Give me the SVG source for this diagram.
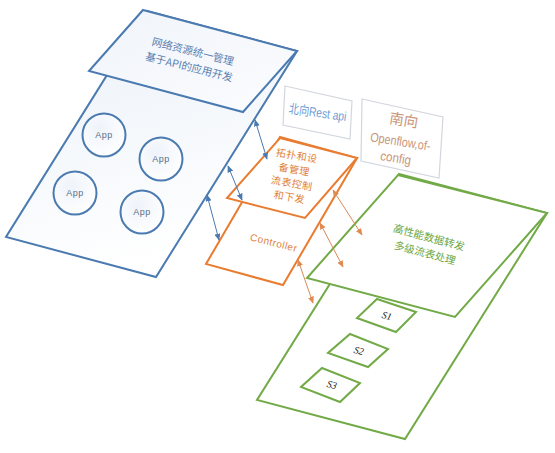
<svg xmlns="http://www.w3.org/2000/svg" width="555" height="453" viewBox="0 0 555 453">
<defs>
<linearGradient id="gBlue" x1="0" y1="0" x2="0.3" y2="1">
<stop offset="0" stop-color="#e9f0f8"/>
<stop offset="1" stop-color="#ffffff"/>
</linearGradient>
<linearGradient id="gBlueTop" x1="0" y1="0" x2="1" y2="1">
<stop offset="0" stop-color="#f0f4fa"/>
<stop offset="1" stop-color="#fbfcfe"/>
</linearGradient>
<radialGradient id="gCircle" cx="0.4" cy="0.35" r="0.7">
<stop offset="0" stop-color="#eef3fa"/>
<stop offset="1" stop-color="#ffffff"/>
</radialGradient>
<marker id="ab" viewBox="0 0 10 10" refX="9" refY="5" markerWidth="7" markerHeight="6" markerUnits="userSpaceOnUse" orient="auto-start-reverse" preserveAspectRatio="none">
<path d="M0,0 L10,5 L0,10 z" fill="#4a7ab0"/>
</marker>
<marker id="ao" viewBox="0 0 10 10" refX="9" refY="5" markerWidth="7" markerHeight="6" markerUnits="userSpaceOnUse" orient="auto-start-reverse" preserveAspectRatio="none">
<path d="M0,0 L10,5 L0,10 z" fill="#e08a50"/>
</marker>
</defs>
<style>
.pb{stroke:#4a7ab0;stroke-width:2;stroke-linejoin:miter}
.po{stroke:#e97c30;stroke-width:2;fill:#ffffff}
.pg{stroke:#72aa47;stroke-width:2;fill:#ffffff}
.cj{font-family:"Noto Sans CJK SC","Liberation Sans",sans-serif;text-anchor:middle}
.la{font-family:"Liberation Sans","Noto Sans CJK SC",sans-serif;text-anchor:middle}
.tb{fill:#5a80b0}
.to{fill:#e07f3c}
.tg{fill:#6aa640}
.ts{fill:#c8957a}
.app{font-family:"Liberation Sans",sans-serif;font-size:9px;fill:#5a6f8a;text-anchor:middle;letter-spacing:0.5px}
.sl{font-family:"Liberation Serif",serif;font-style:italic;font-size:10px;fill:#222;text-anchor:middle}
.cb{fill:url(#gCircle);stroke:#4a7ab0;stroke-width:2}
.arb{stroke:#4a7ab0;stroke-width:1;fill:none;marker-start:url(#ab);marker-end:url(#ab)}
.aro{stroke:#d98a55;stroke-width:1;fill:none;marker-start:url(#ao);marker-end:url(#ao)}
.lbox{fill:#ffffff;stroke:#d2d6de;stroke-width:1.2}
</style>

<g id="app-layer">
<polygon class="pb" fill="url(#gBlue)" points="147,11 297,51 156,277 6,237"/>
<polygon class="pb" fill="url(#gBlueTop)" points="143,10 297,51 243,112 89,71"/>
<g transform="translate(191,59) rotate(14)">
<text class="cj tb" font-size="10.5" x="0" y="-4">网络资源统一管理</text>
<text class="cj tb" font-size="10.5" x="0" y="12">基于API的应用开发</text>
</g>
</g>

<g id="app1"><circle class="cb" cx="104" cy="135" r="21.5"/><text class="app" x="104" y="138">App</text></g>
<g id="app2"><circle class="cb" cx="161" cy="159" r="21.5"/><text class="app" x="161" y="162">App</text></g>
<g id="app3"><circle class="cb" cx="75" cy="193" r="21.5"/><text class="app" x="75" y="196">App</text></g>
<g id="app4"><circle class="cb" cx="142" cy="212" r="21.5"/><text class="app" x="142" y="215">App</text></g>

<g id="north-label">
<polygon class="lbox" points="285,86 352,101 350,139 283,125"/>
<text class="la" font-size="13" fill="#6d9bd3" transform="translate(317,117) rotate(8)" x="0" y="0" textLength="58" lengthAdjust="spacingAndGlyphs">北向Rest api</text>
</g>

<g id="south-label">
<polygon class="lbox" points="362,99 443,117 439,178 361,161"/>
<g transform="translate(401,138) rotate(9)">
<text class="cj ts" font-size="14.5" x="0" y="-13">南向</text>
<text class="la ts" font-size="13" x="0" y="8" textLength="61" lengthAdjust="spacingAndGlyphs">Openflow,of-</text>
<text class="la ts" font-size="13" x="-2" y="25" textLength="31" lengthAdjust="spacingAndGlyphs">config</text>
</g>
</g>

<g id="controller">
<polygon class="po" points="280,137 357,158 283,285 206,264"/>
<text class="la to" font-size="10" letter-spacing="0.5" transform="translate(273,246) rotate(14)">Controller</text>
</g>

<g id="topology">
<polygon class="po" points="280,138 357,158 305,218 227,198"/>
<g transform="translate(293,177) rotate(10)" font-size="10">
<text class="cj to" x="0" y="-18" letter-spacing="0.5">拓扑和设</text>
<text class="cj to" x="0" y="-4" letter-spacing="0.5">备管理</text>
<text class="cj to" x="0" y="10" letter-spacing="0.5">流表控制</text>
<text class="cj to" x="0" y="24" letter-spacing="0.5">和下发</text>
</g>
</g>

<g id="forwarding">
<polygon class="pg" points="399,174 547,213 405,439 257,400"/>
<g id="s1"><polygon class="pg" points="377,299 416,312 396,332 357,318"/><text class="sl" transform="translate(386,319) rotate(14)">S1</text></g>
<g id="s2"><polygon class="pg" points="350,334 388,349 368,367 328,353"/><text class="sl" transform="translate(358,354) rotate(14)">S2</text></g>
<g id="s3"><polygon class="pg" points="322,368 360,383 340,402 301,387"/><text class="sl" transform="translate(331,388) rotate(14)">S3</text></g>
<polygon class="pg" points="398,175 547,213 455,317 307,278"/>
<g transform="translate(427,245) rotate(15)" font-size="10.5">
<text class="cj tg" x="0" y="-4">高性能数据转发</text>
<text class="cj tg" x="0" y="12">多级流表处理</text>
</g>
</g>

<g id="connectors">
<line class="arb" x1="255" y1="120" x2="267" y2="159"/>
<line class="arb" x1="228" y1="166" x2="242" y2="200"/>
<line class="arb" x1="207" y1="195" x2="219" y2="240"/>
<line class="aro" x1="333" y1="190" x2="362" y2="235"/>
<line class="aro" x1="320" y1="223" x2="343" y2="267"/>
<line class="aro" x1="298" y1="260" x2="313" y2="303"/>
</g>
</svg>
